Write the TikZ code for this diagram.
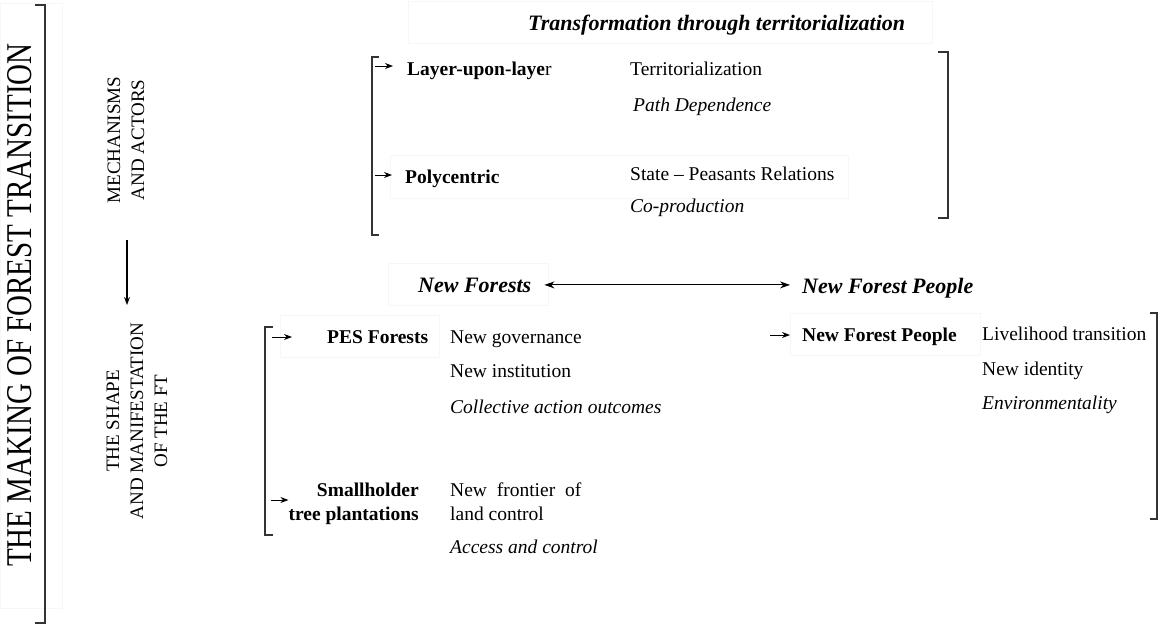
\documentclass[tikz,border=0pt]{standalone}
\usepackage{fontspec}
\usepackage{graphicx}
\setmainfont{Liberation Serif}
\usetikzlibrary{arrows.meta}
\begin{document}
\begin{tikzpicture}[x=1pt,y=-1pt,
  body/.style={inner sep=0pt, font=\fontsize{19.5}{24}\selectfont, anchor=base west},
  head/.style={inner sep=0pt, font=\fontsize{22}{26}\selectfont\bfseries\itshape, anchor=base west},
  vlabel/.style={inner sep=0pt, rotate=90, align=center, font=\fontsize{19}{24}\selectfont},
  brk/.style={line width=1.5pt, draw=black!80},
  haze/.style={draw=black!3, line width=0.6pt},
  arr/.style={line width=0.9pt, -{Stealth[length=8pt,width=6pt]}},
  darr/.style={line width=1pt, {Stealth[length=10pt,width=7pt]}-{Stealth[length=10pt,width=7pt]}},
]
\useasboundingbox (0,0) rectangle (1160,630);

% faint text-box outlines
\draw[haze] (0,3) rectangle (62,608);
\draw[haze] (408,1) rectangle (932,43);
\draw[haze] (390,155) rectangle (848,198);
\draw[haze] (388,263) rectangle (548,305);
\draw[haze] (280,315) rectangle (439,357);
\draw[haze] (790,313) rectangle (980,355);

% left column
\node[inner sep=0pt, rotate=90, font=\fontsize{29}{34}\selectfont] (making) at (20,305)
  {\scalebox{1}[1.25]{THE MAKING OF FOREST TRANSITION}};
\draw[brk] (35,5) -- (45,5) -- (45,623) -- (35,623);

\node[vlabel] (mech) at (126,140) {MECHANISMS\\AND ACTORS};
\node[vlabel] (shape) at (137,421) {THE SHAPE\\AND MANIFESTATION\\OF THE FT};
\coordinate (down1) at (127,240);
\coordinate (down2) at (127,305);
\draw[arr, line width=1.2pt] (down1) -- (down2);

% mechanisms block
\node[head] (title) at (528,30) {Transformation through territorialization};
\draw[brk] (379,57) -- (372,57) -- (372,235) -- (379,235);
\draw[brk] (938,52) -- (948,52) -- (948,218) -- (938,218);

\node[body] (layer) at (407,75) {{\bfseries Layer-upon-laye}r};
\node[body] (terr) at (630,75) {Territorialization};
\node[body, font=\fontsize{19.5}{24}\selectfont\itshape] (path) at (633,111) {Path Dependence};

\node[body, font=\fontsize{19.5}{24}\selectfont\bfseries] (poly) at (405,183) {Polycentric};
\node[body] (state) at (630,180) {State -- Peasants Relations};
\node[body, font=\fontsize{19.5}{24}\selectfont\itshape] (coprod) at (630,212) {Co-production};

\coordinate (c1) at (375,66);
\coordinate (c2) at (375,175);
\draw[arr, shorten >=14pt] (c1) -- (c1 -| layer.west);
\draw[arr, shorten >=13pt] (c2) -- (c2 -| poly.west);

% new forests / new forest people
\node[head] (nf) at (418,292) {New Forests};
\node[head] (nfp) at (802,293) {New Forest People};
\draw[darr, shorten <=13pt, shorten >=12pt] (nf.east) -- (nf.east -| nfp.west);

% new forests block
\draw[brk] (273,327) -- (265,327) -- (265,535) -- (273,535);
\node[body, font=\fontsize{19.5}{24}\selectfont\bfseries] (pes) at (327,343) {PES Forests};
\node[body] (gov) at (450,343) {New governance};
\node[body] (inst) at (450,377) {New institution};
\node[body, font=\fontsize{19.5}{24}\selectfont\itshape] (coll) at (450,413) {Collective action outcomes};

\node[inner sep=0pt, anchor=east, align=right, font=\fontsize{19.5}{24}\selectfont\bfseries] (sh) at (419,504)
  {Smallholder\\tree plantations};
\node[inner sep=0pt, anchor=west, align=left, font=\fontsize{19.5}{24}\selectfont] (front) at (450,502)
  {New\hspace{0.5em}frontier\hspace{0.5em}of\\land control};
\node[body, font=\fontsize{19.5}{24}\selectfont\itshape] (acc) at (450,553) {Access and control};

\coordinate (c3) at (272,337);
\coordinate (c4) at (271,500);
\draw[arr, shorten >=35pt] (c3) -- (c3 -| pes.west);
\draw[arr] (c4) -- (c4 -| sh.west);

% new forest people block
\draw[brk] (1150,313) -- (1157,313) -- (1157,519) -- (1150,519);
\node[body, font=\fontsize{19.5}{24}\selectfont\bfseries] (nfpb) at (802,341) {New Forest People};
\node[body] (live) at (982,340) {Livelihood transition};
\node[body] (ident) at (982,375) {New identity};
\node[body, font=\fontsize{19.5}{24}\selectfont\itshape] (env) at (982,409) {Environmentality};

\coordinate (c5) at (770,335);
\draw[arr, shorten >=12pt] (c5) -- (c5 -| nfpb.west);
\end{tikzpicture}
\end{document}
